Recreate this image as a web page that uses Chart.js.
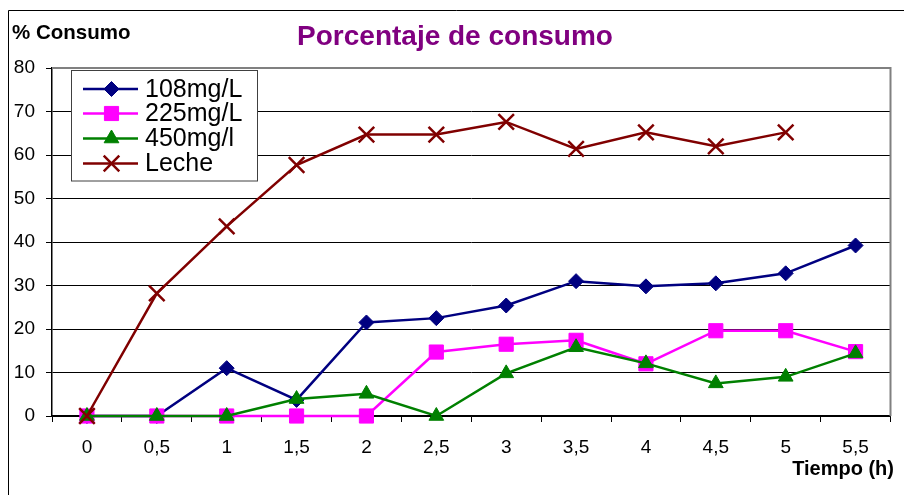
<!DOCTYPE html>
<html>
<head>
<meta charset="utf-8">
<script src="https://cdn.jsdelivr.net/npm/chart.js@4/dist/chart.umd.min.js"></script>
<style>
  html, body { margin: 0; padding: 0; background: #fff; }
  #wrap { position: relative; width: 904px; height: 495px; }
</style>
</head>
<body>
<div id="wrap"><canvas id="c" width="904" height="495"></canvas></div>
<script>
// Tiempo de muestreo (h)
const categorias = ['0', '0,5', '1', '1,5', '2', '2,5', '3', '3,5', '4', '4,5', '5', '5,5'];
// Porcentaje de consumo por tratamiento
const serie108 = [0, 0, 11.0, 3.7, 21.5, 22.5, 25.4, 31.0, 29.8, 30.5, 32.8, 39.2];
const serie225 = [0, 0, 0, 0, 0, 14.7, 16.5, 17.4, 12.0, 19.6, 19.6, 14.8];
const serie450 = [0, 0, 0, 3.9, 5.1, 0, 9.8, 15.8, 12.1, 7.5, 9.0, 14.4];
const serieLeche = [0, 28.2, 43.6, 57.7, 64.7, 64.7, 67.6, 61.4, 65.2, 62.0, 65.2, null];
const nombres = ['108mg/L', '225mg/L', '450mg/l', 'Leche'];
const yMin = 0, yMax = 80, yPaso = 10;

const FONT = 'Arial, "Liberation Sans", sans-serif';

function serie(label, data, color, style, radius, pbw, order) {
  return {
    label, data, order,
    borderColor: color, backgroundColor: color,
    pointBackgroundColor: color, pointBorderColor: color,
    borderWidth: 2.5,
    pointStyle: style, pointRadius: radius, pointHoverRadius: radius,
    pointBorderWidth: pbw,
    tension: 0, spanGaps: false, clip: false
  };
}

// later series are painted over earlier ones
const datasets = [
  serie(nombres[0], serie108, '#000080', 'rectRot', 7.5, 1, 4),
  serie(nombres[1], serie225, '#FF00FF', 'rect', 10, 1, 3),
  serie(nombres[2], serie450, '#008000', 'triangle', 8.5, 1, 2),
  serie(nombres[3], serieLeche, '#800000', 'crossRot', 11, 2.5, 1)
];

const decoracion = {
  id: 'decoracion',
  beforeDraw(chart) {
    const ctx = chart.ctx;
    ctx.save();
    ctx.strokeStyle = '#000';
    ctx.lineWidth = 1;
    ctx.beginPath();
    ctx.moveTo(8.5, 495); ctx.lineTo(8.5, 10.5); ctx.lineTo(904, 10.5);
    ctx.stroke();
    ctx.restore();
  },
  beforeDatasetsDraw(chart) {
    const a = chart.chartArea, ctx = chart.ctx;
    ctx.save();
    ctx.strokeStyle = '#808080';
    ctx.lineWidth = 2;
    ctx.beginPath();
    ctx.moveTo(a.left, a.top); ctx.lineTo(a.right, a.top); ctx.lineTo(a.right, a.bottom);
    ctx.stroke();
    ctx.restore();
  },
  afterDraw(chart) {
    const ctx = chart.ctx;
    ctx.save();
    // textos
    ctx.fillStyle = '#800080';
    ctx.font = 'bold 28px ' + FONT;
    ctx.textAlign = 'center'; ctx.textBaseline = 'middle';
    ctx.fillText('Porcentaje de consumo', 455, 37);
    ctx.fillStyle = '#000';
    ctx.font = 'bold 20.5px ' + FONT;
    ctx.textAlign = 'left';
    ctx.fillText('% Consumo', 12, 33);
    ctx.font = 'bold 20px ' + FONT;
    ctx.textAlign = 'right';
    ctx.fillText('Tiempo (h)', 894, 469);

    // leyenda
    ctx.fillStyle = '#fff';
    ctx.fillRect(71.5, 70.5, 186, 110.5);
    ctx.strokeStyle = '#404040';
    ctx.lineWidth = 1;
    ctx.strokeRect(71.5, 70.5, 186, 110.5);
    const filas = [89, 113.5, 138.5, 163.5];
    chart.data.datasets.forEach((ds, i) => {
      const y = filas[i];
      ctx.strokeStyle = ds.borderColor;
      ctx.lineWidth = ds.borderWidth;
      ctx.beginPath(); ctx.moveTo(83, y); ctx.lineTo(138, y); ctx.stroke();
      ctx.fillStyle = ds.pointBackgroundColor;
      ctx.strokeStyle = ds.pointBorderColor;
      ctx.lineWidth = ds.pointBorderWidth;
      Chart.helpers.drawPoint(ctx, {
        pointStyle: ds.pointStyle, radius: ds.pointRadius,
        borderWidth: ds.pointBorderWidth, rotation: 0
      }, 111.5, y);
      ctx.fillStyle = '#000';
      ctx.font = '25px ' + FONT;
      ctx.textAlign = 'left'; ctx.textBaseline = 'middle';
      ctx.fillText(ds.label, 145, y + 1);
    });
    ctx.restore();
  }
};

new Chart(document.getElementById('c'), {
  type: 'line',
  data: { labels: categorias, datasets },
  options: {
    responsive: false,
    animation: false,
    events: [],
    layout: { padding: { top: 68, right: 12, left: 0, bottom: 0 } },
    plugins: { legend: { display: false }, title: { display: false }, tooltip: { enabled: false } },
    scales: {
      x: {
        type: 'category',
        offset: true,
        afterFit(s) { s.height = 79; },
        grid: { offset: true, drawOnChartArea: false, tickLength: 6, color: '#000', lineWidth: 1 },
        border: { display: true, color: '#000', width: 1.5 },
        ticks: { color: '#000', font: { family: FONT, size: 19 }, padding: 14, maxRotation: 0, autoSkip: false }
      },
      y: {
        min: yMin, max: yMax,
        afterFit(s) { s.width = 52; },
        grid: {
          color: (c) => (c.tick && c.tick.value === yMax) ? 'rgba(0,0,0,0)' : '#000',
          lineWidth: 1, tickLength: 6, tickColor: '#000'
        },
        border: { display: true, color: '#000', width: 1.5 },
        ticks: { stepSize: yPaso, color: '#000', font: { family: FONT, size: 19 }, padding: 11 }
      }
    }
  },
  plugins: [decoracion]
});
</script>
</body>
</html>
